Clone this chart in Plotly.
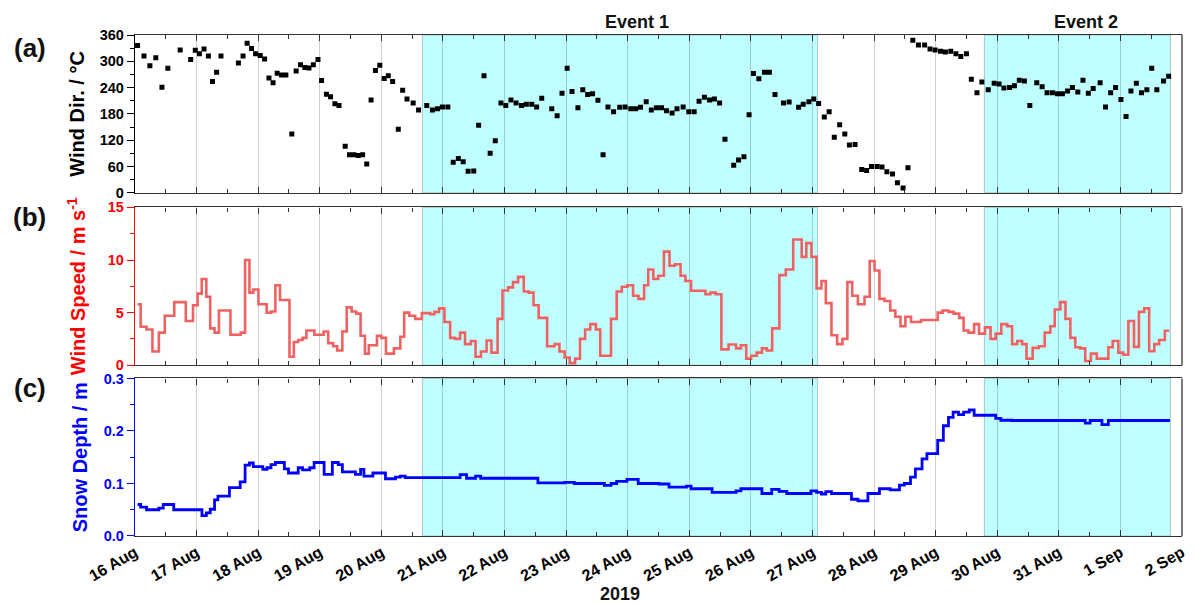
import pandas as pd
import plotly.graph_objects as go

# ---------------- data (hours since 2019-08-16 00:00) ----------------
wd_hours = [1.0,3.5,5.8,8.1,10.5,12.8,17.6,21.7,23.5,25.1,
            26.9,28.6,30.2,31.8,33.5,40.3,42.1,43.7,45.4,47.0,
            48.8,50.5,52.2,53.8,55.4,57.1,58.8,61.1,62.8,64.5,
            66.2,67.8,69.5,71.3,72.7,74.6,76.2,77.9,79.5,81.9,
            83.6,85.3,87.0,88.7,90.3,92.0,93.7,95.4,97.1,98.7,
            100.4,102.6,104.3,106.0,108.4,110.5,113.7,115.9,117.9,119.8,
            121.9,124.0,126.0,127.9,129.8,132.0,133.9,136.0,138.4,140.4,
            142.6,144.5,146.5,148.5,150.6,152.5,154.6,156.5,158.5,162.4,
            164.5,166.4,168.4,170.3,172.6,174.5,176.4,178.3,180.4,182.4,
            184.3,186.5,188.9,191.0,193.2,195.1,197.0,199.2,201.2,203.2,
            205.2,207.1,209.3,211.2,213.6,215.8,217.9,219.8,221.9,223.9,
            225.8,227.8,229.9,233.3,235.2,237.3,239.3,241.0,243.1,245.3,
            247.2,249.4,252.7,254.9,258.6,260.4,262.6,264.5,266.4,268.6,
            270.5,272.5,274.6,276.6,278.4,280.6,283.2,285.1,287.0,289.2,
            291.1,293.0,295.2,297.1,299.3,301.2,303.1,305.3,307.7,309.8,
            311.8,313.9,315.8,317.9,319.9,321.8,324.0,325.9,328.1,330.0,
            332.5,334.8,336.7,338.6,340.8,342.7,344.6,346.6,348.7,351.4,
            353.5,355.4,357.5,359.5,361.4,363.4,365.3,367.4,369.4,371.5,
            373.4,376.1,378.2,380.2,382.1,384.2,386.2,388.1,390.2,392.2,
            394.3,396.2,398.2,400.8,402.8]
wd_vals = [336,312,290,308,241,284,326,304,325,317,
           328,312,254,275,312,296,312,341,329,317,
           313,305,262,251,273,269,269,134,278,292,
           286,285,292,304,256,225,219,203,199,106,
           87,87,85,87,66,212,279,291,261,267,
           254,145,234,214,205,189,199,189,192,196,
           196,70,78,71,49,50,154,267,90,119,
           205,199,212,205,199,202,202,196,216,192,
           176,227,284,231,194,235,224,226,211,87,
           196,185,195,196,192,192,195,208,189,194,
           194,187,182,192,196,185,185,209,218,212,
           214,205,122,63,75,82,178,272,260,275,
           275,224,205,207,195,202,208,214,204,173,
           185,127,155,134,109,110,53,51,60,60,
           59,48,43,23,11,57,348,337,337,328,
           326,323,321,323,317,311,317,259,228,253,
           235,250,248,239,240,244,257,255,199,251,
           242,228,228,226,226,232,240,230,257,227,
           238,251,196,228,240,213,174,232,250,228,
           235,284,235,255,266]

ws_hours = [1.0,2.2,4.5,6.8,9.3,11.6,15.3,19.8,22.6,24.4,
            26.0,27.8,29.3,31.0,32.7,37.2,41.2,42.9,44.6,46.1,
            48.1,51.3,53.1,54.7,56.5,60.2,61.9,63.6,65.3,66.8,
            69.9,73.5,75.3,77.2,78.8,80.8,82.5,84.4,86.2,87.9,
            89.6,91.1,94.3,96.0,97.8,100.9,103.4,104.9,106.9,109.2,
            111.8,115.0,116.7,118.5,120.6,122.8,124.7,126.7,128.6,130.9,
            132.7,134.8,137.0,138.9,141.3,143.2,145.4,147.3,149.3,151.5,
            153.4,155.3,157.3,160.6,163.5,165.4,167.4,169.4,171.5,173.4,
            175.4,177.4,179.6,181.3,185.5,187.7,189.7,191.9,194.1,196.2,
            198.4,200.0,202.0,203.9,206.1,208.3,210.4,212.6,214.5,216.7,
            222.3,224.2,226.3,228.5,231.3,234.2,236.1,238.2,240.1,242.3,
            244.3,246.2,248.3,251.1,253.6,256.5,259.8,261.6,263.6,265.6,
            267.5,269.2,271.4,273.6,275.7,277.6,279.5,281.7,284.3,286.3,
            288.2,290.1,292.1,294.3,296.3,298.3,300.2,302.4,306.3,312.8,
            314.7,317.0,319.0,321.2,322.9,324.8,327.0,328.9,331.2,333.4,
            335.4,337.6,339.9,341.8,343.8,345.7,347.4,349.8,352.2,354.5,
            356.7,358.4,360.6,362.6,364.5,366.4,368.3,370.3,372.5,374.8,
            379.3,381.0,383.2,385.1,387.1,389.3,391.2,393.3,395.2,397.2,
            399.1,401.3]
ws_vals = [5.8,3.65,3.4,1.3,3.1,4.7,6.0,4.2,5.7,6.8,
           8.2,6.5,3.5,3.1,5.2,2.9,3.1,10.0,6.9,7.2,
           5.8,5.0,5.1,7.6,6.2,0.8,2.2,2.4,2.6,3.3,
           2.9,3.2,2.1,1.8,1.4,3.2,5.5,5.1,4.9,2.8,
           1.1,1.9,2.8,2.6,1.1,1.6,2.7,5.0,4.7,4.4,
           4.95,4.85,5.07,5.4,4.1,2.6,2.5,3.1,2.0,2.3,
           0.8,1.3,2.35,1.2,4.4,7.1,7.4,7.9,8.4,7.0,
           6.9,5.7,4.5,1.8,2.0,1.3,0.73,0.2,0.63,2.5,
           3.4,3.9,3.4,0.9,4.4,7.0,7.45,7.6,6.6,6.3,
           7.6,9.1,8.2,8.5,10.8,9.45,9.6,8.5,8.0,7.07,
           6.75,6.9,6.75,1.5,1.97,1.6,1.9,0.63,0.9,1.2,
           1.6,1.4,3.5,8.56,9.1,11.95,10.3,11.6,10.3,7.3,
           8.0,5.9,2.85,2.0,2.5,7.9,6.6,5.8,6.5,9.9,
           9.0,6.3,6.1,5.2,4.6,3.7,4.6,4.1,4.3,5.0,
           5.2,5.07,4.9,4.5,3.3,3.1,3.9,3.0,3.6,2.5,
           3.0,3.9,3.7,2.0,2.3,2.0,0.63,1.65,1.8,3.1,
           3.7,5.3,6.0,4.4,2.6,1.7,1.6,0.4,1.1,0.63,
           1.7,2.3,1.2,1.0,4.2,1.74,5.07,5.4,1.33,2.0,
           2.4,3.27]
ws_end_hour = 403.0

sd_hours = [1.0,2.2,4.5,9.3,11.0,15.1,26.1,27.8,29.3,31.0,
            32.3,36.8,41.0,42.9,44.6,46.1,49.8,51.4,53.0,54.7,
            58.2,59.8,63.6,65.3,68.1,69.8,73.7,76.9,79.2,80.8,
            85.9,87.9,89.2,92.7,97.6,101.5,103.4,105.3,126.7,129.2,
            132.7,134.7,157.0,167.4,171.2,182.9,185.5,187.7,191.7,196.1,
            204.2,208.1,214.9,216.7,224.9,234.2,236.1,244.3,248.1,251.0,
            254.0,263.4,265.6,267.5,269.2,271.4,279.2,281.7,285.6,290.1,
            294.3,297.9,299.8,302.2,304.1,306.7,308.6,312.8,315.0,317.0,
            318.8,320.9,322.9,325.1,327.0,335.4,337.4,341.8,370.3,372.2,
            376.8,379.3]
sd_vals = [0.06,0.055,0.05,0.053,0.06,0.05,0.039,0.044,0.051,0.069,
           0.076,0.092,0.103,0.135,0.139,0.132,0.127,0.13,0.136,0.14,
           0.128,0.12,0.13,0.126,0.13,0.14,0.1175,0.14,0.136,0.122,
           0.1175,0.127,0.114,0.12,0.109,0.112,0.114,0.111,0.117,0.11,
           0.114,0.11,0.101,0.102,0.1,0.0966,0.1,0.104,0.108,0.1,
           0.099,0.093,0.095,0.09,0.083,0.086,0.09,0.081,0.089,0.085,
           0.081,0.086,0.083,0.08,0.0845,0.081,0.07,0.067,0.081,0.09,
           0.088,0.097,0.1,0.112,0.128,0.147,0.157,0.182,0.21,0.226,
           0.236,0.231,0.236,0.24,0.23,0.224,0.2205,0.22,0.215,0.22,
           0.212,0.22]
sd_end_hour = 403.3

event_names = ["Event 1", "Event 2"]
event_start = ["2019-08-20 16:00", "2019-08-29 19:00"]
event_end = ["2019-08-27 02:00", "2019-09-01 19:30"]

x_range = ["2019-08-16", "2019-09-02"]

BASE = pd.Timestamp("2019-08-16")


def to_time(hours):
    return (BASE + pd.to_timedelta(hours, unit="h")).strftime("%Y-%m-%d %H:%M:%S").tolist()


FONT = "Arial, Liberation Sans, sans-serif"
SPEED_COLOR = "#F06262"
SNOW_COLOR = "#0000FF"
CYAN = "#C0FFFF"
FRAME = "#333333"
GRID = "rgba(0,0,0,0.19)"

fig = go.Figure()
fig.add_trace(go.Scatter(x=to_time(wd_hours), y=wd_vals, mode="markers",
                         marker=dict(symbol="square", size=5, color="black"),
                         xaxis="x", yaxis="y", showlegend=False))
fig.add_trace(go.Scatter(x=to_time(ws_hours + [ws_end_hour]), y=ws_vals + [ws_vals[-1]],
                         mode="lines", line=dict(shape="hv", color=SPEED_COLOR, width=2.6),
                         xaxis="x2", yaxis="y2", showlegend=False))
fig.add_trace(go.Scatter(x=to_time(sd_hours + [sd_end_hour]), y=sd_vals + [sd_vals[-1]],
                         mode="lines", line=dict(shape="hv", color=SNOW_COLOR, width=2.8),
                         xaxis="x3", yaxis="y3", showlegend=False))


def xaxis_cfg(anchor, labels):
    d = dict(type="date", range=x_range, anchor=anchor, tick0="2019-08-16", dtick=86400000,
             ticks="inside", ticklen=6, tickcolor=FRAME, tickwidth=1.2,
             showline=True, linecolor=FRAME, linewidth=1.3, mirror="ticks",
             showgrid=True, gridcolor=GRID, gridwidth=1, zeroline=False,
             minor=dict(dtick=43200000, tick0="2019-08-16", ticks="inside", ticklen=4,
                        tickcolor=FRAME, showgrid=False),
             showticklabels=labels)
    if labels:
        d.update(tickformat="%-d %b", tickangle=-30,
                 tickfont=dict(family=FONT, size=16, color="black", weight="bold"))
    return d


def yaxis_cfg(anchor, domain, rng, dtick, minor, color, title, standoff, fmt=None):
    d = dict(anchor=anchor, domain=domain, range=rng, dtick=dtick, tick0=0,
             ticks="outside", ticklen=7, tickcolor=color, tickwidth=1.2,
             showline=True, linecolor=color, linewidth=1.3, mirror=False,
             showgrid=False, zeroline=False,
             minor=dict(dtick=minor, tick0=0, ticks="outside", ticklen=4, tickcolor=color),
             tickfont=dict(family=FONT, size=14.5, color=color, weight="bold"),
             title=dict(text=title, standoff=standoff,
                        font=dict(family=FONT, size=20, color=color, weight="bold")),
             automargin=False)
    if fmt:
        d["tickformat"] = fmt
    return d


fig.update_layout(
    width=1200, height=605,
    margin=dict(l=135, r=12, t=35, b=69),
    paper_bgcolor="white", plot_bgcolor="white",
    font=dict(family=FONT, color="black"),
    xaxis=xaxis_cfg("y", False),
    xaxis2=xaxis_cfg("y2", False),
    xaxis3=xaxis_cfg("y3", True),
    yaxis=yaxis_cfg("x", [0.685, 1.0], [0, 360], 60, 30, "#000000", "Wind Dir. / °C", 9),
    yaxis2=yaxis_cfg("x2", [0.3409, 0.6559], [0, 15], 5, 2.5, "#FF0000",
                     "Wind Speed / m s<sup>-1</sup>", 16),
    yaxis3=yaxis_cfg("x3", [0.0, 0.3144], [0, 0.3], 0.1, 0.05, SNOW_COLOR,
                     "Snow Depth / m", 10, fmt=".1f"),
)

shapes = []
for xr, yr in [("x", "y"), ("x2", "y2"), ("x3", "y3")]:
    for s, e in zip(event_start, event_end):
        shapes.append(dict(type="rect", xref=xr, yref=f"{yr} domain", x0=s, x1=e, y0=0, y1=1,
                           fillcolor=CYAN, line=dict(color="rgba(150,175,175,0.7)", width=1),
                           layer="below"))
    shapes.append(dict(type="line", xref="paper", yref=f"{yr} domain", x0=1, x1=1, y0=0, y1=1,
                       line=dict(color=FRAME, width=1.3), layer="above"))
fig.update_layout(shapes=shapes)

annotations = []
for lab, yr, yy in [("(a)", "y", 0.918), ("(b)", "y2", 0.938), ("(c)", "y3", 0.938)]:
    annotations.append(dict(text=lab, xref="paper", yref=f"{yr} domain", x=-0.1007, y=yy,
                            showarrow=False, xanchor="center", yanchor="middle",
                            font=dict(family=FONT, size=26, color="#111111", weight="bold")))
for name, xp in zip(event_names, [0.4796, 0.908]):
    annotations.append(dict(text=name, xref="paper", yref="paper", x=xp, y=1.026,
                            showarrow=False, xanchor="center", yanchor="middle",
                            font=dict(family=FONT, size=18, color="#111111", weight="bold")))
annotations.append(dict(text="2019", xref="paper", yref="paper", x=0.4634, y=-0.1164,
                        showarrow=False, xanchor="center", yanchor="middle",
                        font=dict(family=FONT, size=18, color="#111111", weight="bold")))
fig.update_layout(annotations=annotations)

fig.write_html("out.html",
               config={"displayModeBar": False},
               post_script="document.body.style.margin='0';document.body.style.overflow='hidden';")
